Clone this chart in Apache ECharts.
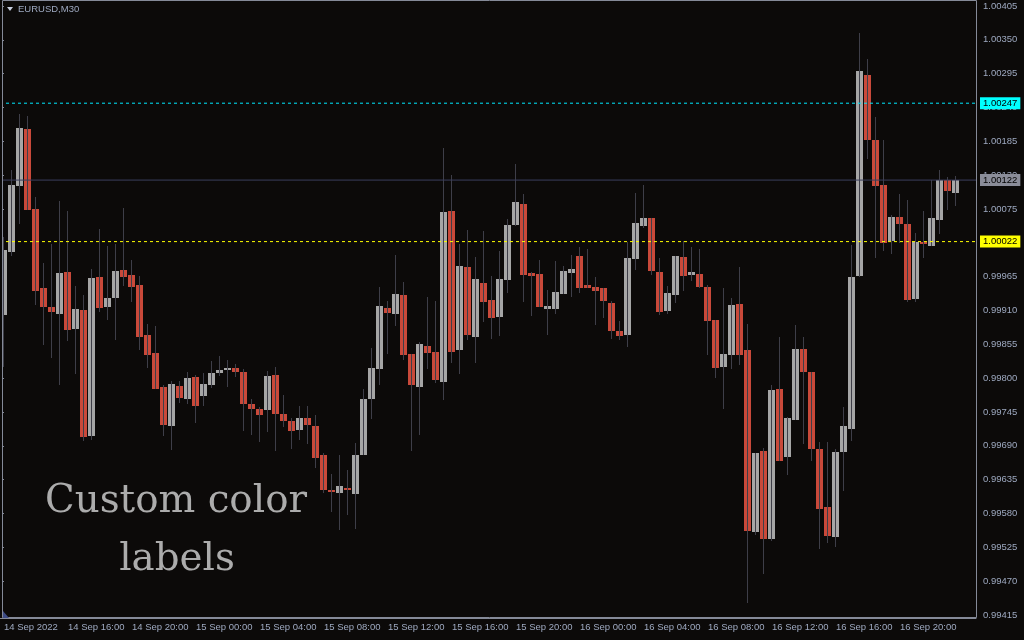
<!DOCTYPE html>
<html>
<head>
<meta charset="utf-8">
<title>EURUSD,M30</title>
<script src="https://cdn.jsdelivr.net/npm/echarts@6/dist/echarts.min.js"></script>
<style>
  html, body { margin: 0; padding: 0; background: #0c0a09; }
  #chart { width: 1024px; height: 640px; }
</style>
</head>
<body>
<div id="chart"></div>
<script>
// EURUSD M30, 14 Sep 2022 12:00 -> 16 Sep 2022 23:30, one value per 30 min bar
const opens = [
  0.99903, 1.00005, 1.00112, 1.00205, 1.00075, 0.99947, 0.99916, 0.99904, 0.99973, 0.99880,
  0.99911, 0.99706, 0.99964, 0.99916, 0.99930, 0.99976, 0.99968, 0.99951, 0.99870, 0.99841,
  0.99786, 0.99722, 0.99787, 0.99766, 0.99802, 0.99771, 0.99789, 0.99808, 0.99813, 0.99817,
  0.99810, 0.99758, 0.99750, 0.99748, 0.99805, 0.99742, 0.99730, 0.99716, 0.99735, 0.99722,
  0.99675, 0.99618, 0.99613, 0.99621, 0.99612, 0.99675, 0.99766, 0.99815, 0.99914, 0.99904,
  0.99935, 0.99839, 0.99786, 0.99852, 0.99843, 0.99794, 1.00072, 0.99846, 0.99981, 0.99867,
  0.99955, 0.99927, 0.99899, 0.99960, 1.00049, 1.00083, 0.99971, 0.99969, 0.99912, 0.99912,
  0.99937, 0.99971, 0.99999, 0.99951, 0.99948, 0.99947, 0.99922, 0.99877, 0.99870, 0.99994,
  1.00047, 1.00060, 0.99973, 0.99909, 0.99935, 0.99997, 0.99968, 0.99969, 0.99948, 0.99895,
  0.99818, 0.99838, 0.99921, 0.99846, 0.99550, 0.99682, 0.99539, 0.99782, 0.99672, 0.99732,
  0.99847, 0.99810, 0.99685, 0.99591, 0.99542, 0.99680, 0.99717, 0.99966, 1.00293, 1.00187,
  1.00114, 1.00023, 1.00062, 1.00051, 0.99929, 1.00021, 1.00015, 1.00057, 1.00122, 1.00101
];
const closes = [
  1.00008, 1.00114, 1.00207, 1.00073, 0.99942, 0.99916, 0.99908, 0.99971, 0.99878, 0.99912,
  0.99704, 0.99963, 0.99914, 0.99930, 0.99974, 0.99964, 0.99948, 0.99867, 0.99838, 0.99782,
  0.99724, 0.99791, 0.99768, 0.99800, 0.99755, 0.99791, 0.99808, 0.99813, 0.99817, 0.99810,
  0.99758, 0.99750, 0.99740, 0.99804, 0.99742, 0.99730, 0.99714, 0.99735, 0.99724, 0.99670,
  0.99618, 0.99615, 0.99625, 0.99618, 0.99675, 0.99766, 0.99817, 0.99917, 0.99906, 0.99937,
  0.99838, 0.99789, 0.99856, 0.99841, 0.99797, 1.00070, 0.99843, 0.99982, 0.99870, 0.99961,
  0.99924, 0.99898, 0.99961, 1.00049, 1.00086, 0.99968, 0.99966, 0.99916, 0.99917, 0.99940,
  0.99974, 0.99977, 0.99947, 0.99947, 0.99942, 0.99925, 0.99877, 0.99869, 0.99995, 1.00052,
  1.00060, 0.99974, 0.99908, 0.99938, 0.99999, 0.99966, 0.99973, 0.99948, 0.99893, 0.99817,
  0.99839, 0.99919, 0.99838, 0.99552, 0.99678, 0.99539, 0.99781, 0.99665, 0.99735, 0.99847,
  0.99810, 0.99685, 0.99587, 0.99543, 0.99680, 0.99722, 0.99964, 1.00299, 1.00187, 1.00112,
  1.00020, 1.00062, 1.00051, 0.99927, 1.00021, 1.00018, 1.00060, 1.00122, 1.00104, 1.00122
];
const lows = [
  0.99818, 0.99999, 1.00051, 1.00073, 0.99919, 0.99854, 0.99833, 0.99789, 0.99860, 0.99807,
  0.99698, 0.99699, 0.99908, 0.99895, 0.99862, 0.99950, 0.99924, 0.99846, 0.99817, 0.99782,
  0.99706, 0.99683, 0.99760, 0.99758, 0.99727, 0.99755, 0.99784, 0.99804, 0.99786, 0.99802,
  0.99714, 0.99708, 0.99696, 0.99712, 0.99682, 0.99721, 0.99685, 0.99699, 0.99693, 0.99654,
  0.99613, 0.99582, 0.99553, 0.99578, 0.99555, 0.99675, 0.99734, 0.99789, 0.99839, 0.99885,
  0.99830, 0.99682, 0.99708, 0.99815, 0.99792, 0.99765, 0.99825, 0.99807, 0.99862, 0.99825,
  0.99891, 0.99864, 0.99869, 0.99938, 1.00047, 0.99924, 0.99901, 0.99916, 0.99870, 0.99904,
  0.99937, 0.99932, 0.99938, 0.99947, 0.99886, 0.99898, 0.99864, 0.99862, 0.99851, 0.99976,
  1.00044, 0.99968, 0.99903, 0.99904, 0.99922, 0.99942, 0.99958, 0.99947, 0.99838, 0.99800,
  0.99750, 0.99815, 0.99821, 0.99435, 0.99545, 0.99482, 0.99535, 0.99665, 0.99643, 0.99732,
  0.99693, 0.99665, 0.99522, 0.99532, 0.99526, 0.99617, 0.99698, 0.99964, 1.00156, 0.99995,
  1.00007, 1.00002, 1.00020, 0.99924, 0.99924, 0.99995, 1.00015, 1.00034, 1.00073, 1.00080
];
const highs = [
  1.00029, 1.00138, 1.00229, 1.00226, 1.00095, 0.99987, 1.00018, 1.00088, 1.00072, 0.99950,
  0.99935, 0.99977, 1.00042, 1.00015, 1.00018, 1.00077, 0.99992, 0.99966, 0.99888, 0.99885,
  0.99789, 0.99795, 0.99795, 0.99810, 0.99805, 0.99808, 0.99828, 0.99836, 0.99830, 0.99823,
  0.99815, 0.99766, 0.99753, 0.99812, 0.99818, 0.99773, 0.99735, 0.99755, 0.99755, 0.99740,
  0.99678, 0.99644, 0.99675, 0.99651, 0.99695, 0.99782, 0.99849, 0.99948, 0.99925, 1.00000,
  0.99956, 0.99839, 0.99859, 0.99932, 0.99925, 1.00174, 1.00130, 1.00018, 1.00041, 0.99997,
  1.00039, 0.99966, 1.00007, 1.00059, 1.00148, 1.00099, 0.99973, 0.99992, 0.99943, 0.99990,
  0.99982, 1.00000, 1.00013, 1.00010, 0.99964, 0.99947, 0.99925, 0.99893, 1.00021, 1.00101,
  1.00114, 1.00060, 0.99995, 0.99950, 0.99999, 1.00023, 1.00013, 1.00010, 0.99951, 0.99895,
  0.99947, 0.99930, 0.99981, 0.99888, 0.99678, 0.99686, 0.99789, 0.99867, 0.99737, 0.99886,
  0.99867, 0.99810, 0.99696, 0.99696, 0.99685, 0.99753, 1.00016, 1.00361, 1.00319, 1.00225,
  1.00187, 1.00065, 1.00099, 1.00090, 1.00036, 1.00072, 1.00122, 1.00138, 1.00127, 1.00129
];

// every 8th bar (4 hours) gets a time label
const timeLabels = [
  '14 Sep 2022', '14 Sep 16:00', '14 Sep 20:00', '15 Sep 00:00', '15 Sep 04:00',
  '15 Sep 08:00', '15 Sep 12:00', '15 Sep 16:00', '15 Sep 20:00', '16 Sep 00:00',
  '16 Sep 04:00', '16 Sep 08:00', '16 Sep 12:00', '16 Sep 16:00', '16 Sep 20:00'
];
const priceTicks = { min: 0.99415, max: 1.00405, step: 0.00055 };

// horizontal price levels: bid line, then the two custom dashed levels
const levelPrices = [1.00122, 1.00247, 1.00022];
const levelColors = ['#3b3f5e', '#00e8ff', '#ffff00'];
const levelTagColors = ['#8b8d99', '#00ffff', '#ffff00'];
const levelDashed = [false, true, true];

const UP = '#a6a6a6';
const DOWN = '#c9493a';
const WICK = '#3e3e48';
const FRAME = '#858a98';
const TEXT = '#9ea9c0';

const slots = [];
for (let i = 0; i < 122; i++) slots.push(String(i)); // 2 empty slots on the right
const candles = opens.map((o, i) => [i, o, closes[i], lows[i], highs[i]]);

function renderCandle(params, api) {
  const i = api.value(0);
  const o = api.value(1);
  const c = api.value(2);
  const pO = api.coord([i, o]);
  const pC = api.coord([i, c]);
  const pL = api.coord([i, api.value(3)]);
  const pH = api.coord([i, api.value(4)]);
  const cx = Math.round(pO[0]);
  const top = Math.round(Math.min(pO[1], pC[1]));
  const bot = Math.round(Math.max(pO[1], pC[1]));
  return {
    type: 'group',
    children: [
      {
        type: 'rect',
        shape: { x: cx - 4, y: top, width: 7, height: Math.max(bot - top, 1) },
        style: { fill: c >= o ? UP : DOWN }
      },
      {
        type: 'line',
        shape: { x1: cx - 0.5, y1: Math.round(pH[1]), x2: cx - 0.5, y2: Math.round(pL[1]) },
        style: { stroke: WICK, lineWidth: 1 }
      }
    ]
  };
}

const isLabelSlot = (idx) => idx % 8 === 0 && idx / 8 < timeLabels.length;

// each level is a flat line across the full width of the plot (hidden 0..1 x axis)
const levelSeries = levelPrices.map((price, i) => ({
  type: 'line',
  xAxisIndex: 1,
  data: [[0, price], [1, price]],
  symbol: 'none',
  silent: true,
  z: 3,
  lineStyle: { color: levelColors[i], width: 1, type: levelDashed[i] ? [3, 3] : 'solid' },
  endLabel: {
    show: true,
    distance: 4,
    formatter: (p) => p.value[1].toFixed(5),
    backgroundColor: levelTagColors[i],
    color: '#000',
    fontFamily: 'Liberation Sans',
    fontSize: 9.5,
    lineHeight: 10,
    padding: [1, 3, 1, 3]
  }
}));

const chart = echarts.init(document.getElementById('chart'));
chart.setOption({
  animation: false,
  backgroundColor: '#0c0a09',
  grid: { left: 0, right: 48, top: 6, bottom: 25 },
  xAxis: [
    {
      type: 'category',
      data: slots,
      boundaryGap: true,
      offset: 3,
      axisLine: { lineStyle: { color: FRAME } },
      axisTick: { interval: isLabelSlot, alignWithLabel: true, length: 4, lineStyle: { color: FRAME } },
      axisLabel: {
        interval: isLabelSlot,
        formatter: (v, idx) => timeLabels[idx / 8],
        align: 'left',
        margin: 4,
        color: TEXT,
        fontFamily: 'Liberation Sans',
        fontSize: 9.5
      },
      splitLine: { show: false }
    },
    { type: 'value', min: 0, max: 1, show: false }
  ],
  yAxis: {
    type: 'value',
    position: 'right',
    min: priceTicks.min,
    max: priceTicks.max,
    interval: priceTicks.step,
    axisLine: { show: true, lineStyle: { color: FRAME } },
    axisTick: { show: true, length: 4, lineStyle: { color: FRAME } },
    axisLabel: {
      formatter: (v) => v.toFixed(5),
      color: TEXT,
      fontFamily: 'Liberation Sans',
      fontSize: 9.5,
      margin: 7
    },
    splitLine: { show: false }
  },
  series: [
    {
      type: 'custom',
      renderItem: renderCandle,
      data: candles,
      encode: { x: 0, y: [1, 2, 3, 4] },
      clip: true,
      silent: true,
      z: 2
    }
  ].concat(levelSeries),
  graphic: [
    // mask left of the frame, then the frame itself
    { type: 'rect', z: 100, shape: { x: 0, y: 0, width: 2, height: 618 }, style: { fill: '#0c0a09' } },
    { type: 'rect', z: 101, shape: { x: 2.5, y: 0.5, width: 974, height: 617 }, style: { fill: null, stroke: FRAME, lineWidth: 1 } },
    { type: 'polygon', z: 101, shape: { points: [[3, 611], [3, 618], [9, 618]] }, style: { fill: '#3e4c86' } },
    { type: 'polygon', z: 101, shape: { points: [[7, 7], [13, 7], [10, 11]] }, style: { fill: '#c8d0e0' } },
    {
      type: 'text', z: 101, x: 18, y: 9,
      style: { text: 'EURUSD,M30', fill: TEXT, fontFamily: 'Liberation Sans', fontSize: 9.5, verticalAlign: 'middle' }
    },
    {
      type: 'text', z: 101, x: 176, y: 502, scaleX: 0.97,
      style: { text: 'Custom color', fill: '#acacac', fontFamily: 'DejaVu Serif', fontSize: 40, align: 'center', verticalAlign: 'middle' }
    },
    {
      type: 'text', z: 101, x: 177, y: 560, scaleX: 0.97,
      style: { text: 'labels', fill: '#acacac', fontFamily: 'DejaVu Serif', fontSize: 40, align: 'center', verticalAlign: 'middle' }
    }
  ]
});
</script>
</body>
</html>
